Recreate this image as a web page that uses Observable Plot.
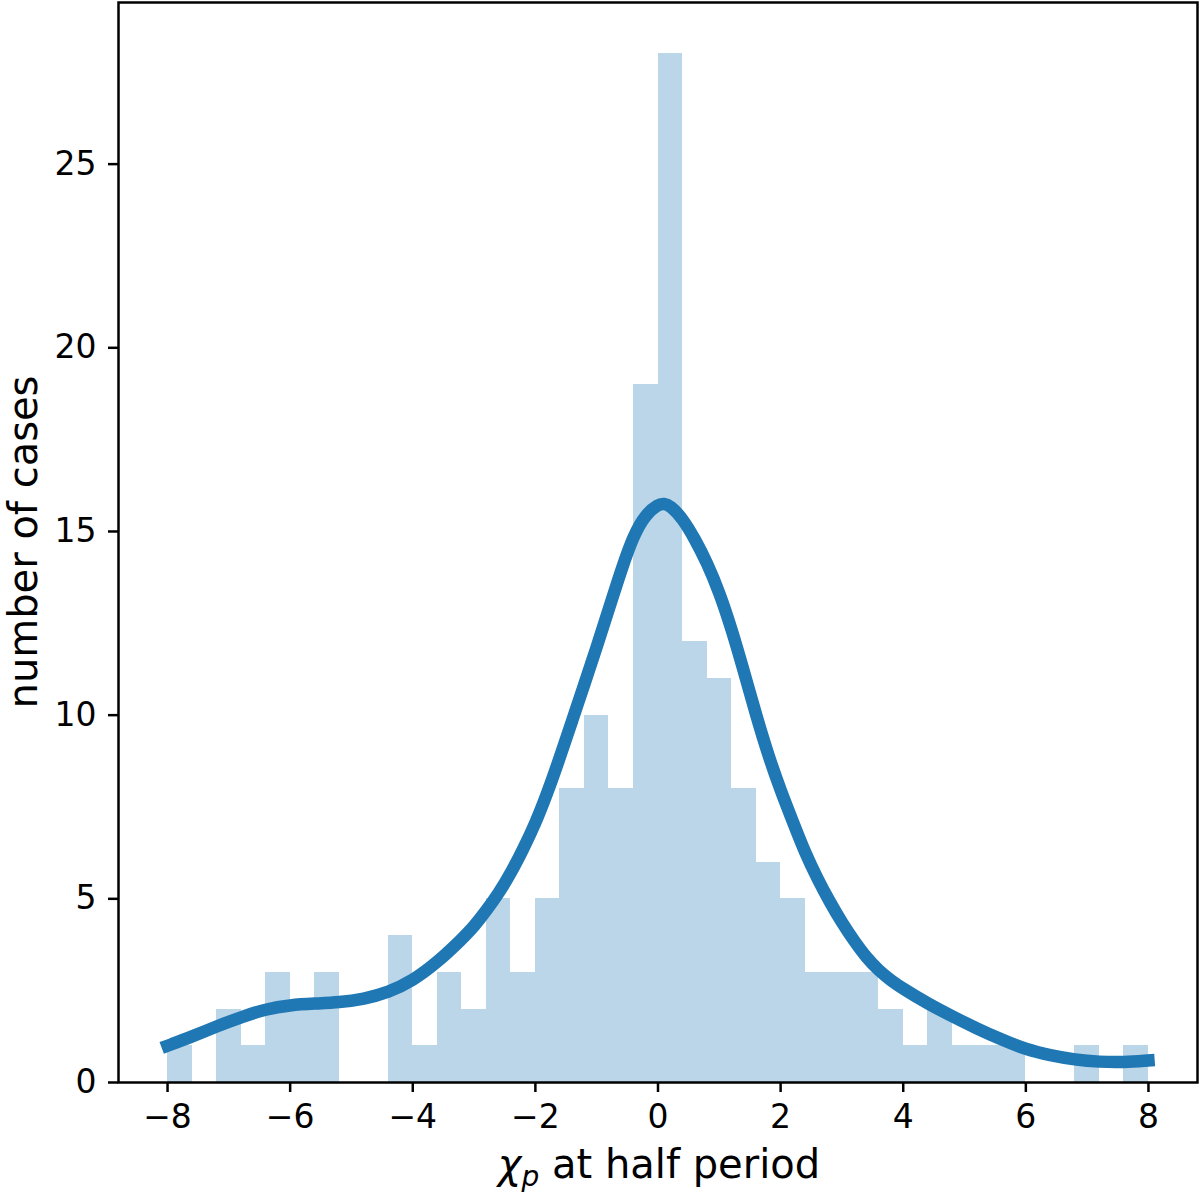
<!DOCTYPE html>
<html>
<head>
<meta charset="utf-8">
<script src="https://cdn.jsdelivr.net/npm/d3@7"></script>
<script src="https://cdn.jsdelivr.net/npm/@observablehq/plot@0.6"></script>
<style>
  html, body { margin: 0; padding: 0; background: #ffffff; }
  svg { display: block; }
</style>
</head>
<body>
<div id="chart"></div>
<script>
// Histogram: bins of width 0.4 from -8 to 8
const binStart = -8;
const binWidth = 0.4;
const counts = [1, 0, 2, 1, 3, 2, 3, 0, 0, 4,
                1, 3, 2, 5, 3, 5, 8, 10, 8, 19,
                28, 12, 11, 8, 6, 5, 3, 3, 3, 2,
                1, 2, 1, 1, 1, 0, 0, 1, 0, 1];

// Smooth density curve (scaled to counts)
const curveX = [-8.0, -7.6, -7.2, -6.8, -6.4, -6.0, -5.6, -5.2, -4.8, -4.4,
                -4.0, -3.6, -3.2, -3.0, -2.8, -2.6, -2.4, -2.2, -2.0, -1.8,
                -1.6, -1.4, -1.2, -1.0, -0.8, -0.6, -0.4, -0.2, 0.0, 0.1,
                0.2, 0.4, 0.6, 0.8, 1.0, 1.2, 1.4, 1.6, 1.8, 2.0,
                2.2, 2.4, 2.6, 2.8, 3.0, 3.2, 3.4, 3.6, 3.8, 4.0,
                4.4, 4.8, 5.2, 5.6, 6.0, 6.4, 6.8, 7.2, 7.6, 8.0];
const curveY = [1.00, 1.25, 1.53, 1.78, 2.00, 2.11, 2.15, 2.18, 2.27, 2.45,
                2.77, 3.27, 3.90, 4.25, 4.68, 5.15, 5.70, 6.35, 7.05, 7.90,
                8.85, 9.85, 10.85, 11.85, 12.9, 13.95, 14.9, 15.47, 15.74, 15.76,
                15.70, 15.36, 14.8, 14.15, 13.35, 12.35, 11.2, 10.0, 8.90, 7.95,
                7.10, 6.25, 5.55, 4.92, 4.35, 3.85, 3.40, 3.05, 2.78, 2.55,
                2.15, 1.80, 1.47, 1.17, 0.90, 0.74, 0.62, 0.56, 0.55, 0.60];

const xTicks = [-8, -6, -4, -2, 0, 2, 4, 6, 8];
const yTicks = [0, 5, 10, 15, 20, 25];
const xDomain = [-8.8, 8.8];
const yDomain = [0, 29.4];

const bins = counts.map((c, i) => ({
  x1: binStart + i * binWidth,
  x2: binStart + (i + 1) * binWidth,
  count: c
}));
const curve = curveX.map((x, i) => ({x, y: curveY[i]}));

const fmt = d => (d < 0 ? "\u2212" + Math.abs(d) : String(d));

const svg = Plot.plot({
  width: 1200,
  height: 1193,
  marginLeft: 118,
  marginRight: 3,
  marginTop: 2,
  marginBottom: 111,
  style: {fontFamily: "DejaVu Sans", background: "#ffffff", color: "#000000"},
  x: {domain: xDomain},
  y: {domain: yDomain},
  marks: [
    Plot.rectY(bins, {x1: "x1", x2: "x2", y: "count", fill: "#1f77b4", fillOpacity: 0.3, shapeRendering: "crispEdges"}),
    Plot.line(curve, {x: "x", y: "y", stroke: "#1f77b4", strokeWidth: 12.5, curve: "basis", strokeLinecap: "square", strokeLinejoin: "round"}),
    Plot.frame({stroke: "#000000", strokeWidth: 2.5}),
    Plot.axisX({ticks: xTicks, tickFormat: fmt, tickSize: 10, tickPadding: 12, fontSize: 33, strokeWidth: 2.5, label: null}),
    Plot.axisY({ticks: yTicks, tickFormat: fmt, tickSize: 10, tickPadding: 12, fontSize: 33, strokeWidth: 2.5, label: null})
  ]
});

const s = d3.select(svg);
// x label with math-style chi_p
const xl = s.append("text")
  .attr("x", 659)
  .attr("y", 1178)
  .attr("text-anchor", "middle")
  .attr("font-family", "DejaVu Sans")
  .attr("font-size", 40)
  .attr("fill", "#000000");
xl.append("tspan").attr("font-style", "italic").text("\u03C7");
xl.append("tspan").attr("font-style", "italic").attr("font-size", 28).attr("dy", 8).text("p");
xl.append("tspan").attr("dy", -8).text(" at half period");

// y label
s.append("text")
  .attr("transform", "translate(37,542) rotate(-90)")
  .attr("text-anchor", "middle")
  .attr("font-family", "DejaVu Sans")
  .attr("font-size", 40)
  .attr("fill", "#000000")
  .text("number of cases");

document.getElementById("chart").appendChild(svg);
</script>
</body>
</html>
